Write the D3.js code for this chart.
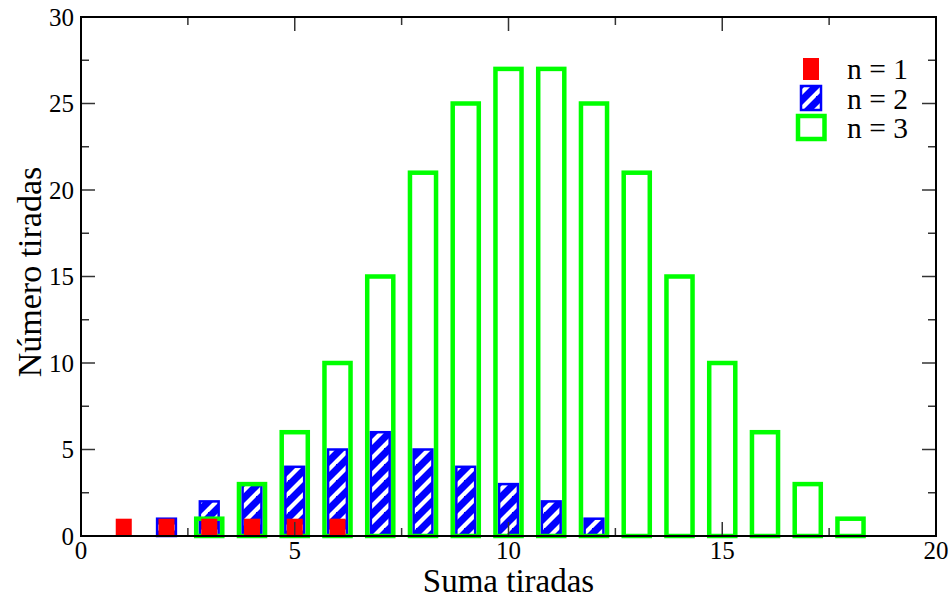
<!DOCTYPE html>
<html>
<head>
<meta charset="utf-8">
<script src="https://d3js.org/d3.v7.min.js"></script>
<style>
  body { margin: 0; background: #fff; }
  text { font-family: "Liberation Serif", "Times New Roman", serif; fill: #000; }
</style>
</head>
<body>
<svg id="chart" width="950" height="599"></svg>
<script>
// sums and counts for n = 1, 2, 3 dice
const sums1 = [1, 2, 3, 4, 5, 6];
const counts1 = [1, 1, 1, 1, 1, 1];
const sums2 = [2, 3, 4, 5, 6, 7, 8, 9, 10, 11, 12];
const counts2 = [1, 2, 3, 4, 5, 6, 5, 4, 3, 2, 1];
const sums3 = [3, 4, 5, 6, 7, 8, 9, 10, 11, 12, 13, 14, 15, 16, 17, 18];
const counts3 = [1, 3, 6, 10, 15, 21, 25, 27, 27, 25, 21, 15, 10, 6, 3, 1];
const xTicks = [0, 5, 10, 15, 20];
const yTicks = [0, 5, 10, 15, 20, 25, 30];
const legendLabels = ["n = 1", "n = 2", "n = 3"];

const svg = d3.select("#chart");
const pLeft = 81, pRight = 936, pTop = 17, pBottom = 536;

const x = d3.scaleLinear().domain([0, 20]).range([pLeft, pRight]);
const y = d3.scaleLinear().domain([0, 30]).range([pBottom, pTop]);

// striped fill like grace pattern
const defs = svg.append("defs");
const pat = defs.append("pattern")
  .attr("id", "stripes")
  .attr("patternUnits", "userSpaceOnUse")
  .attr("width", 16).attr("height", 16);
pat.append("rect").attr("width", 16).attr("height", 16).attr("fill", "#0000ff");
pat.append("path")
  .attr("d", "M0,11 L11,0 L16,0 L16,1 L1,16 L0,16 Z M11,16 L16,11 L16,16 Z")
  .attr("fill", "#fff");

const toPairs = (xs, ys) => xs.map((v, i) => ({ x: v, y: ys[i] }));

// n = 2 (blue, striped)
const w2 = 0.44;
svg.append("g").selectAll("rect").data(toPairs(sums2, counts2)).enter()
  .append("rect")
  .attr("x", d => x(d.x - w2 / 2))
  .attr("y", d => y(d.y))
  .attr("width", x(w2) - x(0))
  .attr("height", d => y(0) - y(d.y))
  .attr("fill", "url(#stripes)")
  .attr("stroke", "#0000ff")
  .attr("stroke-width", 2.5);

// n = 3 (green outline)
const w3 = 0.61;
svg.append("g").selectAll("rect").data(toPairs(sums3, counts3)).enter()
  .append("rect")
  .attr("x", d => x(d.x - w3 / 2))
  .attr("y", d => y(d.y))
  .attr("width", x(w3) - x(0))
  .attr("height", d => y(0) - y(d.y))
  .attr("fill", "none")
  .attr("stroke", "#00ff00")
  .attr("stroke-width", 4.5);

// n = 1 (red solid)
const w1 = 0.375;
svg.append("g").selectAll("rect").data(toPairs(sums1, counts1)).enter()
  .append("rect")
  .attr("x", d => x(d.x - w1 / 2))
  .attr("y", d => y(d.y))
  .attr("width", x(w1) - x(0))
  .attr("height", d => y(0) - y(d.y))
  .attr("fill", "#ff0000");

// frame + ticks (inside, mirrored)
const g = svg.append("g");
const minorX = d3.range(0, 20.01, 2.5);
const minorY = d3.range(0, 30.01, 2.5);
minorX.forEach(v => {
  const len = v % 5 === 0 ? 14 : 8;
  g.append("line").attr("x1", x(v)).attr("x2", x(v)).attr("y1", pBottom).attr("y2", pBottom - len);
  g.append("line").attr("x1", x(v)).attr("x2", x(v)).attr("y1", pTop).attr("y2", pTop + len);
});
minorY.forEach(v => {
  const len = v % 5 === 0 ? 14 : 8;
  g.append("line").attr("y1", y(v)).attr("y2", y(v)).attr("x1", pLeft).attr("x2", pLeft + len);
  g.append("line").attr("y1", y(v)).attr("y2", y(v)).attr("x1", pRight).attr("x2", pRight - len);
});
g.selectAll("line").attr("stroke", "#333").attr("stroke-width", 1.5);
svg.append("rect")
  .attr("x", pLeft).attr("y", pTop)
  .attr("width", pRight - pLeft).attr("height", pBottom - pTop)
  .attr("fill", "none").attr("stroke", "#000").attr("stroke-width", 2);

// tick labels
svg.append("g").selectAll("text").data(xTicks).enter()
  .append("text")
  .attr("x", d => x(d)).attr("y", 559)
  .attr("text-anchor", "middle")
  .attr("font-size", 25)
  .text(d => d);
svg.append("g").selectAll("text").data(yTicks).enter()
  .append("text")
  .attr("x", 74).attr("y", d => y(d) + 8.5)
  .attr("text-anchor", "end")
  .attr("font-size", 25)
  .text(d => d);

// axis titles
svg.append("text")
  .attr("x", (pLeft + pRight) / 2).attr("y", 592)
  .attr("text-anchor", "middle")
  .attr("font-size", 33)
  .text("Suma tiradas");
svg.append("text")
  .attr("transform", "translate(41,272) rotate(-90)")
  .attr("text-anchor", "middle")
  .attr("font-size", 34)
  .text("Número tiradas");

// legend
const leg = svg.append("g");
leg.append("rect").attr("x", 803).attr("y", 58).attr("width", 16).attr("height", 22).attr("fill", "#ff0000");
leg.append("rect").attr("x", 801).attr("y", 86).attr("width", 20).attr("height", 24)
  .attr("fill", "url(#stripes)").attr("stroke", "#0000ff").attr("stroke-width", 2.5);
leg.append("rect").attr("x", 798).attr("y", 116).attr("width", 26.5).attr("height", 23)
  .attr("fill", "none").attr("stroke", "#00ff00").attr("stroke-width", 4.5);
leg.selectAll("text").data(legendLabels).enter()
  .append("text")
  .attr("x", 847).attr("y", (d, i) => 79 + i * 29.5)
  .attr("font-size", 29.5)
  .text(d => d);
</script>
</body>
</html>
